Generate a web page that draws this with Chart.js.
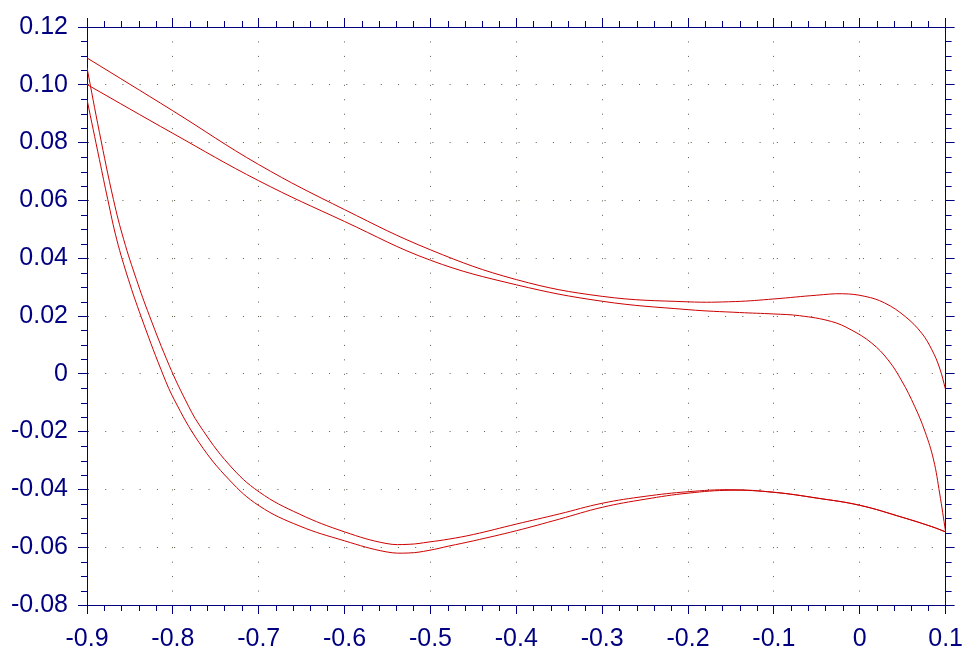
<!DOCTYPE html>
<html>
<head>
<meta charset="utf-8">
<script src="https://cdn.jsdelivr.net/npm/chart.js@4"></script>
<style>
  html, body { margin: 0; padding: 0; background: #fff; }
  canvas { display: block; }
</style>
</head>
<body>
<canvas id="chart" width="973" height="660"></canvas>
<script>
// axis ticks
const xTickValues = [-0.9, -0.8, -0.7, -0.6, -0.5, -0.4, -0.3, -0.2, -0.1, 0, 0.1];
const xTickLabels = ['-0.9', '-0.8', '-0.7', '-0.6', '-0.5', '-0.4', '-0.3', '-0.2', '-0.1', '0', '0.1'];
const yTickValues = [-0.08, -0.06, -0.04, -0.02, 0, 0.02, 0.04, 0.06, 0.08, 0.10, 0.12];
const yTickLabels = ['-0.08', '-0.06', '-0.04', '-0.02', '0', '0.02', '0.04', '0.06', '0.08', '0.10', '0.12'];

// upper branch, outer
const upperOuterX = [-0.9, -0.8, -0.7, -0.6, -0.5, -0.4, -0.3, -0.2, -0.145, -0.1, -0.05, -0.02, 0.006, 0.029, 0.053, 0.072, 0.084, 0.093, 0.1];
const upperOuterY = [0.1093, 0.0910, 0.0724, 0.0568, 0.0429, 0.0326, 0.0268, 0.0249, 0.0250, 0.0259, 0.0272, 0.0277, 0.0268, 0.0245, 0.0198, 0.0141, 0.0083, 0.0020, -0.0055];

// upper branch, inner
const upperInnerX = [-0.9, -0.8, -0.7, -0.6, -0.5, -0.4, -0.3, -0.2, -0.14, -0.1, -0.07, -0.033, -0.01, 0.014, 0.033, 0.049, 0.064, 0.076, 0.086, 0.093, 0.1];
const upperInnerY = [0.1001, 0.0832, 0.0668, 0.0527, 0.0393, 0.0308, 0.0251, 0.0222, 0.0212, 0.0207, 0.0201, 0.0181, 0.0152, 0.0106, 0.0048, -0.0025, -0.0113, -0.0200, -0.0298, -0.0413, -0.0547];

// lower branch, upper of the pair
const lowerAX = [-0.9, -0.8855, -0.8692, -0.8572, -0.8424, -0.8273, -0.8041, -0.7855, -0.7692, -0.7343, -0.6994, -0.6529, -0.6, -0.5517, -0.525, -0.5017, -0.4785, -0.45, -0.4, -0.35, -0.3, -0.25, -0.2, -0.15, -0.1, -0.05, 0, 0.05, 0.084, 0.1];
const lowerAY = [0.1059, 0.0835, 0.0603, 0.0464, 0.0326, 0.0201, 0.0028, -0.0090, -0.0177, -0.0315, -0.0409, -0.0485, -0.0547, -0.0587, -0.0590, -0.0582, -0.0572, -0.0556, -0.0520, -0.0485, -0.0448, -0.0424, -0.0408, -0.0401, -0.0410, -0.0430, -0.0455, -0.0497, -0.0529, -0.0547];

// lower branch, lower of the pair
const lowerBX = [-0.9, -0.8855, -0.8758, -0.8653, -0.8517, -0.837, -0.8137, -0.7983, -0.7692, -0.7343, -0.6994, -0.6529, -0.6, -0.5517, -0.525, -0.5017, -0.4785, -0.45, -0.4, -0.35, -0.3, -0.25, -0.2, -0.15, -0.1, -0.05, 0, 0.05, 0.084, 0.1];
const lowerBY = [0.0949, 0.0741, 0.0603, 0.0464, 0.0326, 0.0198, 0.0014, -0.0090, -0.0239, -0.0367, -0.0457, -0.0526, -0.0578, -0.0616, -0.0620, -0.0611, -0.0596, -0.0578, -0.0543, -0.0503, -0.0462, -0.0434, -0.0413, -0.0403, -0.0410, -0.0430, -0.0455, -0.0497, -0.0529, -0.0547];

const AXIS_COLOR = '#000080';
const GRID_COLOR = '#5c5c48';
const LINE_COLOR = '#cc0000';
const FONT = { family: "'Liberation Sans', Arial, sans-serif", size: 25 };

const toPoints = (xs, ys) => xs.map((x, i) => ({ x, y: ys[i] }));

const curve = (xs, ys) => ({
    data: toPoints(xs, ys),
    borderColor: LINE_COLOR,
    borderWidth: 1,
    pointRadius: 0,
    showLine: true,
    fill: false,
    tension: 0.4,
    xAxisID: 'x',
    yAxisID: 'y',
});

// minor tick marks on all four sides, placed through the chart scales
const minorTicks = {
    id: 'minorTicks',
    afterDraw(chart) {
        const { ctx, chartArea: a, scales } = chart;
        ctx.save();
        ctx.strokeStyle = AXIS_COLOR;
        ctx.lineWidth = 1;
        ctx.beginPath();
        for (let i = 0; i <= 50; i++) {
            if (i % 5 === 0) continue;
            const v = -0.9 + i * 0.02;
            const px = Math.round(scales.x.getPixelForValue(v)) + 0.5;
            ctx.moveTo(px, a.bottom);
            ctx.lineTo(px, a.bottom + 6);
            ctx.moveTo(px, a.top);
            ctx.lineTo(px, a.top - 6);
        }
        for (let i = 0; i <= 40; i++) {
            if (i % 4 === 0) continue;
            const v = -0.08 + i * 0.005;
            const py = Math.round(scales.y.getPixelForValue(v)) + 0.5;
            ctx.moveTo(a.left, py);
            ctx.lineTo(a.left - 6, py);
            ctx.moveTo(a.right, py);
            ctx.lineTo(a.right + 6, py);
        }
        ctx.stroke();
        ctx.restore();
    },
};

const fixTicks = (values) => (scale) => {
    scale.ticks = values.map((v) => ({ value: v }));
};

new Chart(document.getElementById('chart'), {
    type: 'scatter',
    data: {
        datasets: [
            curve(upperOuterX, upperOuterY),
            curve(upperInnerX, upperInnerY),
            curve(lowerAX, lowerAY),
            curve(lowerBX, lowerBY),
        ],
    },
    options: {
        responsive: false,
        animation: false,
        devicePixelRatio: 1,
        layout: { padding: 0 },
        plugins: { legend: { display: false }, tooltip: { enabled: false } },
        scales: {
            x: {
                type: 'linear',
                position: 'bottom',
                min: -0.9,
                max: 0.1,
                afterBuildTicks: fixTicks(xTickValues),
                afterFit: (s) => { s.height = 55; },
                ticks: {
                    color: AXIS_COLOR,
                    font: FONT,
                    padding: 10,
                    maxRotation: 0,
                    autoSkip: false,
                    callback: (v, i) => xTickLabels[i],
                },
                grid: { color: GRID_COLOR, lineWidth: 1, tickLength: 9, tickColor: AXIS_COLOR },
                border: { color: AXIS_COLOR, width: 1, dash: [1, 13.45] },
            },
            x2: {
                type: 'linear',
                position: 'top',
                min: -0.9,
                max: 0.1,
                afterBuildTicks: fixTicks(xTickValues),
                afterFit: (s) => { s.height = 27; },
                ticks: { display: false },
                grid: { drawOnChartArea: false, tickLength: 9, tickColor: AXIS_COLOR },
                border: { color: AXIS_COLOR, width: 1 },
            },
            y: {
                type: 'linear',
                position: 'left',
                min: -0.08,
                max: 0.12,
                afterBuildTicks: fixTicks(yTickValues),
                afterFit: (s) => { s.width = 87; },
                ticks: {
                    color: AXIS_COLOR,
                    font: FONT,
                    padding: 10,
                    autoSkip: false,
                    callback: (v, i) => yTickLabels[i],
                },
                grid: { color: GRID_COLOR, lineWidth: 1, tickLength: 9, tickColor: AXIS_COLOR },
                border: { color: AXIS_COLOR, width: 1, dash: [1, 16.22] },
            },
            y2: {
                type: 'linear',
                position: 'right',
                min: -0.08,
                max: 0.12,
                afterBuildTicks: fixTicks(yTickValues),
                afterFit: (s) => { s.width = 25; },
                ticks: { display: false },
                grid: { drawOnChartArea: false, tickLength: 9, tickColor: AXIS_COLOR },
                border: { color: AXIS_COLOR, width: 1 },
            },
        },
    },
    plugins: [minorTicks],
});
</script>
</body>
</html>
